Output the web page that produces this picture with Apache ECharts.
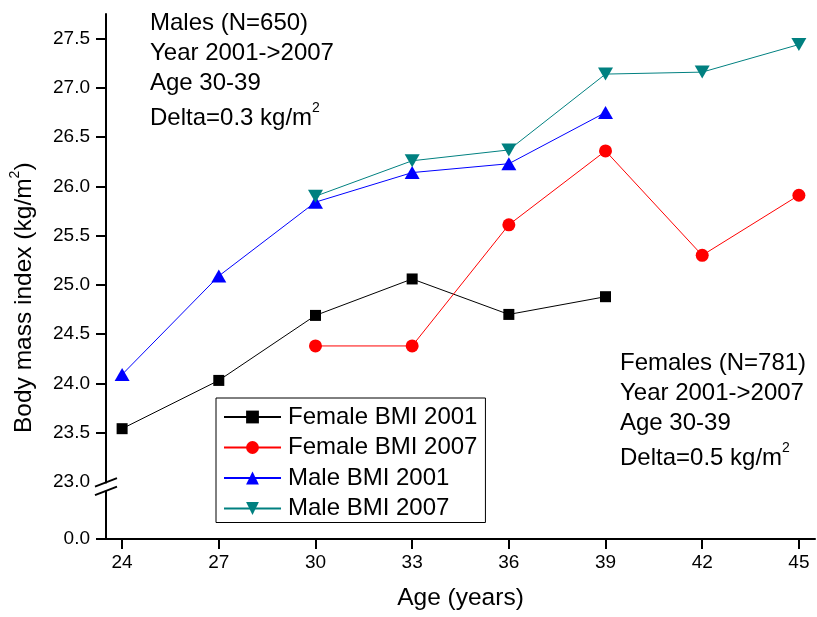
<!DOCTYPE html>
<html>
<head>
<meta charset="utf-8">
<script src="https://cdn.jsdelivr.net/npm/echarts@6/dist/echarts.min.js"></script>
<style>
  html, body { margin: 0; padding: 0; background: #fff; }
  #chart { width: 817px; height: 617px; }
</style>
</head>
<body>
<div id="chart"></div>
<script>
// Age groups (years)
const ages = [24, 27, 30, 33, 36, 39, 42, 45];

// Mean BMI (kg/m^2) per age group; null where a group was not surveyed
const femaleBmi2001 = [23.54, 24.03, 24.69, 25.06, 24.70, 24.88, null, null];
const femaleBmi2007 = [null, null, 24.38, 24.38, 25.61, 26.36, 25.30, 25.91];
const maleBmi2001   = [24.09, 25.09, 25.84, 26.14, 26.23, 26.75, null, null];
const maleBmi2007   = [null, null, 25.90, 26.26, 26.37, 27.14, 27.16, 27.44];

const seriesNames = ['Female BMI 2001', 'Female BMI 2007', 'Male BMI 2001', 'Male BMI 2007'];

// Axis ticks
const xTicks = [24, 27, 30, 33, 36, 39, 42, 45];
const yTicks = [23.5, 24.0, 24.5, 25.0, 25.5, 26.0, 26.5, 27.0, 27.5];
const Y_ZERO = 22.42;   // broken y axis: this position carries the 0.0 label
const Y_BREAK = 23.0;   // axis break sits at this value

const maleNotes = ['Males (N=650)', 'Year 2001->2007', 'Age 30-39', 'Delta=0.3 kg/m'];
const femaleNotes = ['Females (N=781)', 'Year 2001->2007', 'Age 30-39', 'Delta=0.5 kg/m'];

const FONT = '"Liberation Sans", Arial, sans-serif';
const NOTE_SIZE = 24;
const TITLE_SIZE = 24.5;
const SUP_SIZE = 14;

function pairs(vals) {
  const out = [];
  ages.forEach((a, i) => { if (vals[i] != null) out.push([a, vals[i]]); });
  return out;
}

const chart = echarts.init(document.getElementById('chart'), null, { renderer: 'canvas' });

function lineSeries(name, vals, color, symbol, size, rotate) {
  return {
    name: name,
    type: 'line',
    data: pairs(vals),
    symbol: symbol,
    symbolSize: size,
    symbolRotate: rotate || 0,
    showAllSymbol: true,
    lineStyle: { color: color, width: 1 },
    itemStyle: { color: color },
    emphasis: { disabled: true },
    animation: false
  };
}

chart.setOption({
  animation: false,
  textStyle: { fontFamily: FONT },
  grid: { left: 106, right: 2, top: 14, bottom: 78, containLabel: false },
  xAxis: {
    type: 'value',
    min: 23.5,
    max: 45.5,
    name: 'Age (years)',
    nameLocation: 'middle',
    nameGap: 47,
    nameTextStyle: { fontSize: TITLE_SIZE, color: '#000', fontFamily: FONT },
    axisLine: { show: true, lineStyle: { color: '#000', width: 2 } },
    axisTick: { show: true, length: 10, lineStyle: { color: '#000', width: 2 }, customValues: xTicks },
    axisLabel: { fontSize: 19, color: '#000', margin: 14, fontFamily: FONT, customValues: xTicks },
    splitLine: { show: false }
  },
  yAxis: {
    type: 'value',
    min: Y_ZERO,
    max: 27.75,
    axisLine: { show: true, onZero: false, lineStyle: { color: '#000', width: 2 } },
    axisTick: { show: true, length: 10, lineStyle: { color: '#000', width: 2 }, customValues: [Y_ZERO].concat(yTicks) },
    axisLabel: {
      fontSize: 19, color: '#000', margin: 16, fontFamily: FONT,
      customValues: [Y_ZERO, Y_BREAK].concat(yTicks),
      formatter: v => (v < Y_BREAK - 0.1 ? '0.0' : v.toFixed(1))
    },
    splitLine: { show: false }
  },
  legend: {
    data: seriesNames,
    orient: 'vertical',
    left: 216,
    top: 398,
    padding: [7, 8, 2, 7],
    itemWidth: 57,
    itemHeight: 16,
    itemGap: 6.5,
    borderColor: '#000',
    borderWidth: 1,
    backgroundColor: '#fff',
    textStyle: { fontSize: 24, color: '#000', fontFamily: FONT, padding: [0, 0, 0, 2] },
    selectedMode: false
  },
  series: [
    lineSeries(seriesNames[0], femaleBmi2001, '#000000', 'rect', 11),
    lineSeries(seriesNames[1], femaleBmi2007, '#ff0000', 'circle', 13),
    lineSeries(seriesNames[2], maleBmi2001, '#0000ff', 'triangle', [15, 13]),
    lineSeries(seriesNames[3], maleBmi2007, '#008080', 'triangle', [15, 13], 180)
  ]
});

// Text measuring for superscripts
const measureCtx = document.createElement('canvas').getContext('2d');
function textWidth(str, size) {
  measureCtx.font = size + 'px ' + FONT;
  return measureCtx.measureText(str).width;
}

const MID = 0.3465; // baseline offset of a "middle" aligned line, as fraction of font size

function noteBlock(lines, left, baselines) {
  const els = lines.map((t, i) => ({
    type: 'text',
    x: left,
    y: baselines[i] - MID * NOTE_SIZE,
    style: { text: t, fontSize: NOTE_SIZE, fontFamily: FONT, fill: '#000', align: 'left', verticalAlign: 'middle' },
    silent: true
  }));
  const last = lines.length - 1;
  els.push({
    type: 'text',
    x: left + textWidth(lines[last], NOTE_SIZE),
    y: baselines[last] - 13.4 - MID * SUP_SIZE,
    style: { text: '2', fontSize: SUP_SIZE, fontFamily: FONT, fill: '#000', align: 'left', verticalAlign: 'middle' },
    silent: true
  });
  return els;
}

function drawDecorations() {
  const axisX = chart.convertToPixel({ xAxisIndex: 0 }, 23.5);
  const breakY = chart.convertToPixel({ yAxisIndex: 0 }, Y_BREAK);

  const yTitleMain = 'Body mass index (kg/m';
  const w1 = textWidth(yTitleMain, TITLE_SIZE);
  const w2 = textWidth('2', SUP_SIZE);

  const elements = [
    // axis break: gap in the axis line plus two slashes
    { type: 'rect', shape: { x: axisX - 3, y: breakY + 1.5, width: 6, height: 7.5 }, style: { fill: '#fff' }, silent: true, z: 100 },
    { type: 'line', shape: { x1: axisX - 11, y1: breakY + 4.7, x2: axisX + 11, y2: breakY - 3.7 }, style: { stroke: '#000', lineWidth: 2 }, silent: true, z: 101 },
    { type: 'line', shape: { x1: axisX - 11, y1: breakY + 13.2, x2: axisX + 11, y2: breakY + 4.8 }, style: { stroke: '#000', lineWidth: 2 }, silent: true, z: 101 },
    // rotated y-axis title with superscript
    {
      type: 'group',
      x: 33,
      y: 433,
      rotation: Math.PI / 2,
      silent: true,
      children: [
        { type: 'text', x: 0, y: -MID * TITLE_SIZE, style: { text: yTitleMain, fontSize: TITLE_SIZE, fontFamily: FONT, fill: '#000', align: 'left', verticalAlign: 'middle' } },
        { type: 'text', x: w1, y: -13.4 - MID * SUP_SIZE, style: { text: '2', fontSize: SUP_SIZE, fontFamily: FONT, fill: '#000', align: 'left', verticalAlign: 'middle' } },
        { type: 'text', x: w1 + w2, y: -MID * TITLE_SIZE, style: { text: ')', fontSize: TITLE_SIZE, fontFamily: FONT, fill: '#000', align: 'left', verticalAlign: 'middle' } }
      ]
    }
  ]
    .concat(noteBlock(maleNotes, 150, [31.7, 61.7, 91.7, 126.7]))
    .concat(noteBlock(femaleNotes, 620, [371.7, 401.7, 431.7, 466.7]));

  chart.setOption({ graphic: { elements: elements } });
}

drawDecorations();
</script>
</body>
</html>
